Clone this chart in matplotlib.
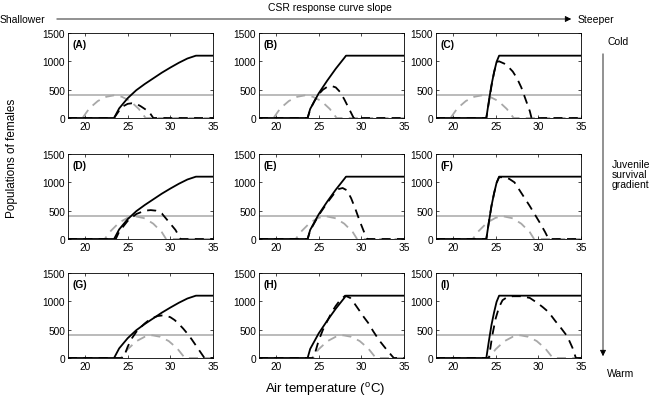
import matplotlib.pyplot as plt
from matplotlib.patches import FancyArrowPatch

plt.rcParams['font.family'] = ['Liberation Sans', 'DejaVu Sans']
plt.rcParams['mathtext.fontset'] = 'custom'
plt.rcParams['mathtext.rm'] = 'Liberation Sans'

# values (temperature in degC, number of females)
threshold = 400

# CSR response curves (black solid), one per column
csr_t_shallow = [18, 23.4, 24, 25, 26, 27, 28, 29, 30, 31, 32, 33, 35]
csr_n_shallow = [0, 0, 170, 350, 490, 600, 700, 800, 890, 975, 1050, 1100, 1100]
csr_t_mid = [18, 23.7, 24, 25, 26, 27, 28, 28.2, 35]
csr_n_mid = [0, 0, 160, 435, 660, 870, 1060, 1100, 1100]
csr_t_steep = [18, 23.9, 24.2, 24.5, 24.8, 25.1, 25.4, 35]
csr_n_steep = [0, 0, 300, 580, 800, 990, 1100, 1100]

# juvenile survival curves (grey dashed), one per row
surv_t_cold = [18, 19.7, 20.5, 21.5, 22.5, 23.4, 24.3, 25.3, 26.3, 27.1, 35]
surv_n_cold = [0, 0, 170, 300, 375, 400, 375, 300, 160, 0, 0]
surv_t_mid = [18, 22.3, 23, 24, 25, 25.9, 27, 28, 29, 29.5, 35]
surv_n_mid = [0, 0, 140, 290, 375, 400, 365, 270, 120, 0, 0]
surv_t_warm = [18, 24.2, 25, 26, 27, 27.9, 28.8, 29.8, 30.8, 31.7, 35]
surv_n_warm = [0, 0, 155, 295, 375, 400, 375, 300, 170, 0, 0]

# resulting populations (black dashed), one per panel
pop_t_A = [18, 23.4, 24, 24.5, 25, 25.5, 26, 26.5, 27, 27.5, 28, 35]
pop_n_A = [0, 0, 130, 210, 250, 260, 250, 210, 160, 110, 0, 0]
pop_t_B = [18, 23.7, 24, 24.5, 25, 25.5, 26, 26.5, 27, 27.5, 28, 28.5, 29.1, 35]
pop_n_B = [0, 0, 150, 300, 420, 500, 550, 565, 540, 460, 330, 180, 0, 0]
pop_t_C = [18, 23.9, 24.2, 24.5, 24.8, 25.1, 25.4, 26, 26.5, 27, 27.5, 28, 28.5, 29, 29.2, 35]
pop_n_C = [0, 0, 280, 560, 800, 990, 1000, 960, 900, 820, 700, 540, 330, 120, 0, 0]
pop_t_D = [18, 23.6, 24, 25, 26, 27, 27.7, 28.3, 29, 29.5, 30, 30.6, 31.2, 35]
pop_n_D = [0, 0, 130, 320, 440, 500, 510, 500, 450, 360, 270, 160, 0, 0]
pop_t_E = [18, 23.7, 24, 25, 26, 26.7, 27.3, 27.8, 28.3, 28.8, 29.3, 29.8, 30.3, 30.7, 35]
pop_n_E = [0, 0, 150, 420, 640, 780, 880, 900, 860, 720, 530, 320, 130, 0, 0]
pop_t_F = [18, 23.9, 24.2, 24.5, 24.8, 25.1, 25.4, 26, 26.6, 27.2, 27.8, 28.4, 29, 29.6, 30.2, 30.8, 31.2, 35]
pop_n_F = [0, 0, 300, 580, 800, 990, 1090, 1090, 1060, 1000, 860, 720, 580, 430, 280, 120, 0, 0]
pop_t_G = [18, 24.5, 25, 25.5, 26, 26.5, 27, 27.5, 28, 28.5, 29, 29.5, 30, 30.5, 31, 31.5, 32, 32.5, 33, 33.5, 34, 35]
pop_n_G = [0, 0, 200, 350, 460, 540, 610, 670, 710, 740, 750, 745, 720, 670, 600, 520, 430, 330, 220, 110, 0, 0]
pop_t_H = [18, 24.4, 25, 25.5, 26, 26.5, 27, 27.5, 28.1, 28.7, 29.2, 29.8, 30.3, 30.8, 31.4, 32.1, 33, 33.8, 35]
pop_n_H = [0, 0, 310, 500, 650, 800, 920, 1020, 1100, 1060, 960, 830, 720, 620, 470, 310, 140, 0, 0]
pop_t_I = [18, 24.2, 24.6, 25, 25.4, 25.8, 26.3, 27, 28, 29, 29.8, 30.5, 31.2, 32, 32.7, 33.4, 34, 34.4, 35]
pop_n_I = [0, 0, 400, 700, 900, 1020, 1070, 1090, 1090, 1060, 980, 900, 810, 650, 520, 380, 180, 0, 0]

panel_labels = ['(A)', '(B)', '(C)', '(D)', '(E)', '(F)', '(G)', '(H)', '(I)']
x_ticks = [20, 25, 30, 35]
y_ticks = [0, 500, 1000, 1500]

csr_curves = [(csr_t_shallow, csr_n_shallow), (csr_t_mid, csr_n_mid), (csr_t_steep, csr_n_steep)]
surv_curves = [(surv_t_cold, surv_n_cold), (surv_t_mid, surv_n_mid), (surv_t_warm, surv_n_warm)]
pop_curves = [(pop_t_A, pop_n_A), (pop_t_B, pop_n_B), (pop_t_C, pop_n_C),
              (pop_t_D, pop_n_D), (pop_t_E, pop_n_E), (pop_t_F, pop_n_F),
              (pop_t_G, pop_n_G), (pop_t_H, pop_n_H), (pop_t_I, pop_n_I)]

W, H = 652, 402
fig = plt.figure(figsize=(W / 100, H / 100), dpi=100)

lefts = [68, 259, 436]
tops = [34, 155, 274]
pw, ph = 145, 85
grey = '#a8a8a8'

for r in range(3):
    for c in range(3):
        k = 3 * r + c
        ax = fig.add_axes([lefts[c] / W, (H - tops[r] - ph) / H, pw / W, ph / H])
        ax.axhline(threshold, color=grey, lw=1.1)
        ax.plot(*surv_curves[r], color=grey, lw=1.3, dashes=(5, 3.5))
        ax.plot(*pop_curves[k], color='black', lw=1.3, dashes=(5, 3.5))
        ax.plot(*csr_curves[c], color='black', lw=1.3)
        ax.set_xlim(18, 35)
        ax.set_ylim(0, 1500)
        ax.set_xticks(x_ticks)
        ax.set_yticks(y_ticks)
        ax.tick_params(direction='in', length=2.5, width=0.5, labelsize=7.3,
                       top=True, right=True, pad=2)
        for s in ax.spines.values():
            s.set_linewidth(0.6)
        ax.text(0.03, 0.93, panel_labels[k], transform=ax.transAxes,
                fontsize=7.3, fontweight='bold', va='top', ha='left')

# gradient annotations
fs = 7.5
fig.text(330 / W, 1 - 8 / H, 'CSR response curve slope', fontsize=fs, ha='center', va='center')
fig.text(0, 1 - 20 / H, 'Shallower', fontsize=fs, ha='left', va='center')
fig.text(578 / W, 1 - 20 / H, 'Steeper', fontsize=fs, ha='left', va='center')
fig.patches.append(FancyArrowPatch(
    (54 / W, 1 - 20 / H), (574 / W, 1 - 20 / H), transform=fig.transFigure,
    arrowstyle='-|>', mutation_scale=9, lw=0.6, color='black'))
fig.patches.append(FancyArrowPatch(
    (603 / W, 1 - 52 / H), (603 / W, 1 - 360 / H), transform=fig.transFigure,
    arrowstyle='-|>', mutation_scale=9, lw=0.6, color='black'))
fig.text(607 / W, 1 - 42 / H, 'Cold', fontsize=fs, ha='left', va='center')
fig.text(612 / W, 1 - 175 / H, 'Juvenile\nsurvival\ngradient', fontsize=fs,
         ha='left', va='center', linespacing=1.05)
fig.text(607 / W, 1 - 374 / H, 'Warm', fontsize=fs, ha='left', va='center')

fig.text(12 / W, 1 - 158 / H, 'Populations of females', fontsize=8.5,
         rotation=90, ha='center', va='center')
fig.text(325 / W, 1 - 390 / H, r'Air temperature ($^{\mathrm{o}}$C)', fontsize=9.5,
         ha='center', va='center')

fig.savefig('out.png', dpi=100)
